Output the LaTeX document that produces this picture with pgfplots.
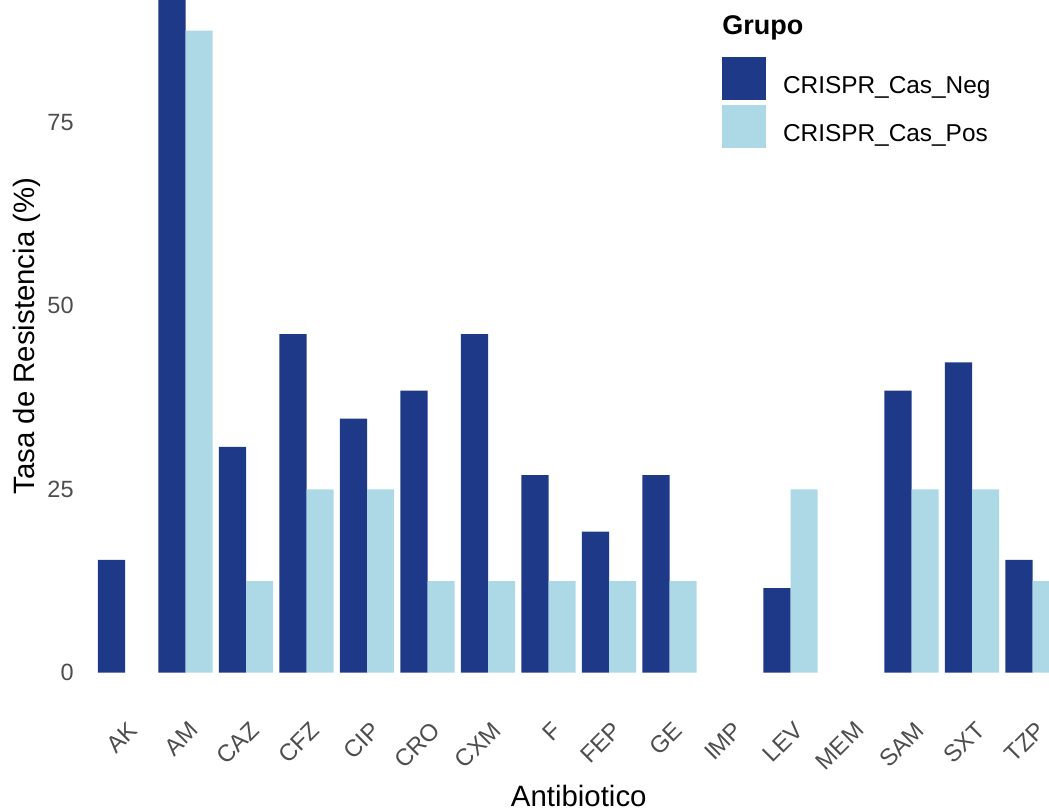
\documentclass[border=0pt]{standalone}
\usepackage{fontspec}
\setmainfont{Liberation Sans}
\usepackage{pgfplots}
\usepackage{pgfplotstable}
\pgfplotsset{compat=1.18}
\definecolor{negc}{RGB}{30,57,136}
\definecolor{posc}{RGB}{173,216,230}
\definecolor{tickgray}{RGB}{77,77,77}
\pgfplotstableread{
x neg pos
0 15.38 0
1 92.31 87.5
2 30.77 12.5
3 46.15 25
4 34.62 25
5 38.46 12.5
6 46.15 12.5
7 26.92 12.5
8 19.23 12.5
9 26.92 12.5
10 0 0
11 11.54 25
12 0 0
13 38.46 25
14 42.31 25
15 15.38 12.5
}\datatable
\begin{document}
\begin{tikzpicture}
\begin{scope}
\clip (-44.35pt,-52.75pt) rectangle (480.15pt,353.25pt);
\begin{axis}[
  at={(0,0)}, anchor=south west,
  scale only axis, width=490.05pt, height=372.35pt,
  xmin=-0.6, xmax=15.6, ymin=-4.6, ymax=96.9,
  axis line style={draw=none},
  major tick length=0pt,
  tick style={draw=none},
  xtick={0,...,15},
  xticklabels={AK,AM,CAZ,CFZ,CIP,CRO,CXM,F,FEP,GE,IMP,LEV,MEM,SAM,SXT,TZP},
  ytick={0,25,50,75},
  /pgf/number format/assume math mode=true,
  yticklabel style={font=\fontsize{11.75pt}{13pt}\selectfont, text=tickgray, anchor=east, inner sep=0pt, xshift=-7.35pt},
  xticklabel style={font=\fontsize{11.9pt}{13pt}\selectfont, text=tickgray, rotate=45, anchor=north east, inner sep=0pt, xshift=-3.8pt, yshift=-5.6pt},
  xlabel={Antibiotico},
  ylabel={Tasa de Resistencia (\%)},
  xlabel style={font=\fontsize{14.7pt}{16pt}\selectfont, at={(axis description cs:0.5,0)}, anchor=base, yshift=-50.25pt},
  ylabel style={font=\fontsize{14.7pt}{16pt}\selectfont, at={(axis description cs:-0.0558,0.4975)}, anchor=base},
  unbounded coords=jump,
  y filter/.expression={y==0 ? nan : y},
  legend cell align=left,
  legend style={at={(axis description cs:0.6462,0.8722)}, anchor=north west, draw=none, fill=none, inner sep=0pt, outer sep=0pt, row sep=2.5pt, font=\fontsize{12.2pt}{14pt}\selectfont, nodes={inner sep=0pt},
    /tikz/every odd column/.append style={column sep=8.5pt}},
]
\addplot[ybar, bar width=0.45, bar shift=-0.225, fill=negc, draw=none,
  legend image code/.code={\fill[negc] (0pt,-6.9pt) rectangle (22pt,14.6pt);}]
  table[x=x, y=neg] {\datatable};
\addlegendentry{CRISPR\_Cas\_Neg}
\addplot[ybar, bar width=0.45, bar shift=0.225, fill=posc, draw=none,
  legend image code/.code={\fill[posc] (0pt,-6.9pt) rectangle (22pt,14.6pt);}]
  table[x=x, y=pos] {\datatable};
\addlegendentry{CRISPR\_Cas\_Pos}
\node[anchor=base west, inner sep=0pt, font=\fontsize{13.5pt}{15pt}\selectfont\bfseries] at (axis description cs:0.6462,0.9017) {Grupo};
\end{axis}
\end{scope}
\pgfresetboundingbox
\useasboundingbox (-44.35pt,-52.75pt) rectangle (480.15pt,353.25pt);
\end{tikzpicture}
\end{document}
